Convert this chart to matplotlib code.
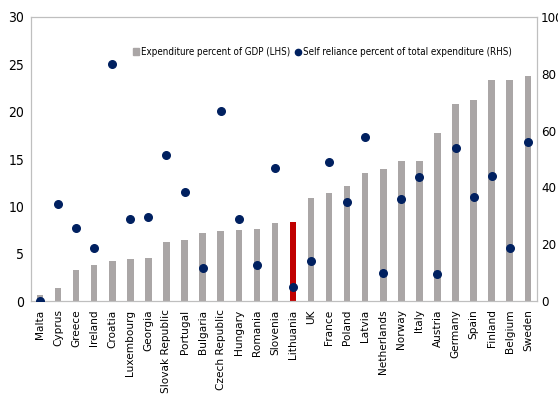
import numpy as np
import matplotlib.pyplot as plt
from matplotlib.lines import Line2D
from matplotlib.patches import Patch

countries = ['Malta', 'Cyprus', 'Greece', 'Ireland', 'Croatia', 'Luxembourg', 'Georgia',
             'Slovak Republic', 'Portugal', 'Bulgaria', 'Czech Republic', 'Hungary',
             'Romania', 'Slovenia', 'Lithuania', 'UK', 'France', 'Poland', 'Latvia',
             'Netherlands', 'Norway', 'Italy', 'Austria', 'Germany', 'Spain', 'Finland',
             'Belgium', 'Sweden']
expenditure = [0.6, 1.4, 3.3, 3.8, 4.2, 4.4, 4.5, 6.2, 6.4, 7.2, 7.4, 7.5, 7.6, 8.2,
               8.4, 10.9, 11.4, 12.1, 13.5, 13.9, 14.8, 14.8, 17.7, 20.8, 21.2, 23.3,
               23.3, 23.8]
self_reliance = [0, 34, 25.7, 18.6, 83.3, 28.8, 29.7, 51.4, 38.3, 11.5, 66.8, 28.8,
                 12.6, 46.9, 5, 14.2, 49, 34.8, 57.9, 9.8, 35.9, 43.8, 9.5, 53.7, 36.5,
                 44, 18.6, 56]

x = np.arange(len(countries))
colors = ['#c00000' if c == 'Lithuania' else '#aaa6a6' for c in countries]

fig = plt.figure(figsize=(5.58, 4.13), dpi=100)
ax = fig.add_axes([0.0556, 0.271, 0.9064, 0.688])
ax.bar(x, expenditure, width=0.36, color=colors, zorder=2)
ax.set_xlim(-0.5, len(countries) - 0.5)
ax.set_ylim(0, 30)
ax.set_yticks(range(0, 31, 5))

ax2 = ax.twinx()
ax2.scatter(x, self_reliance, s=30, color='#002060', zorder=3)
ax2.set_ylim(0, 100)
ax2.set_yticks(range(0, 101, 20))

ax.set_xticks(x)
ax.set_xticklabels(countries, rotation=90)
ax.tick_params(axis='x', length=0, labelsize=7.6, pad=6)
ax.tick_params(axis='y', length=0, labelsize=10, pad=5)
ax2.tick_params(axis='y', length=0, labelsize=9.5, pad=3)
for a in (ax, ax2):
    for lab in a.get_yticklabels():
        lab.set_fontstretch('condensed')
    for sp in a.spines.values():
        sp.set_color('#bfbfbf')

handles = [Patch(color='#aaa6a6'),
           Line2D([], [], marker='o', ls='', color='#002060', markersize=4.5)]
leg = ax.legend(handles, ['Expenditure percent of GDP (LHS)',
                          'Self reliance percent of total expenditure (RHS)'],
                loc='upper left', bbox_to_anchor=(0.185, 0.925), ncol=2, frameon=False,
                handlelength=0.6, handletextpad=0.2, columnspacing=0.5,
                prop={'size': 7.0, 'stretch': 'condensed'})

plt.savefig('out.png', dpi=100)
